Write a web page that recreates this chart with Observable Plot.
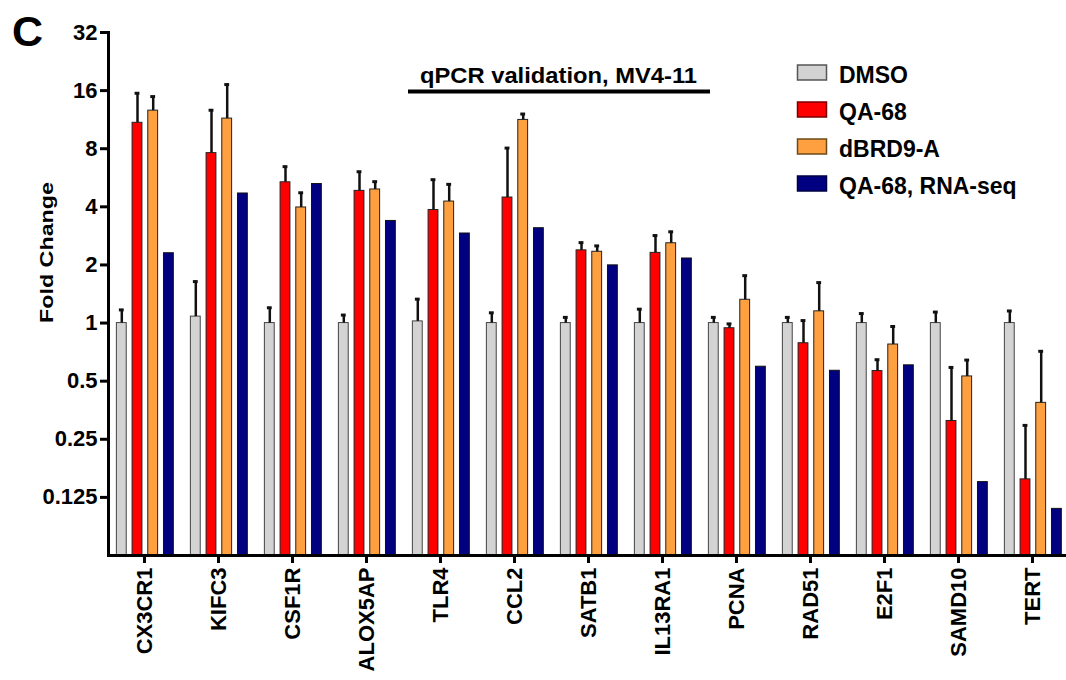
<!DOCTYPE html>
<html><head><meta charset="utf-8">
<script src="https://cdn.jsdelivr.net/npm/d3@7"></script>
<script src="https://cdn.jsdelivr.net/npm/@observablehq/plot@0.6"></script>
<style>
body{margin:0;background:#fff;}
#wrap{position:relative;width:1066px;height:680px;}
#wrap svg{position:absolute;left:0;top:0;}
</style></head><body><div id="wrap"></div>
<script>
const genes = ["CX3CR1","KIFC3","CSF1R","ALOX5AP","TLR4","CCL2","SATB1","IL13RA1","PCNA","RAD51","E2F1","SAMD10","TERT"];
const seriesNames = ["DMSO","QA-68","dBRD9-A","QA-68, RNA-seq"];
const seriesColors = ["#d3d3d3","#ff0000","#ffa040","#000080"];
const seriesStroke = ["#444444","#222222","#222222","#111111"];

const dmso      = [1.0, 1.08, 1.0, 1.0, 1.02, 1.0, 1.0, 1.0, 1.0, 1.0, 1.0, 1.0, 1.0];
const dmsoErr   = [1.17, 1.64, 1.20, 1.10, 1.33, 1.13, 1.07, 1.18, 1.07, 1.07, 1.12, 1.14, 1.155];
const qa68      = [10.9, 7.59, 5.36, 4.84, 3.85, 4.47, 2.38, 2.31, 0.94, 0.786, 0.564, 0.311, 0.155];
const qa68Err   = [15.5, 12.66, 6.46, 6.08, 5.53, 8.06, 2.61, 2.84, 0.99, 1.03, 0.646, 0.589, 0.295];
const dbrd9     = [12.6, 11.46, 3.97, 4.92, 4.26, 11.28, 2.34, 2.59, 1.32, 1.15, 0.774, 0.529, 0.386];
const dbrd9Err  = [14.9, 17.2, 4.73, 5.40, 5.23, 12.1, 2.51, 2.97, 1.76, 1.62, 0.96, 0.643, 0.714];
const rnaseq    = [2.30, 4.69, 5.25, 3.38, 2.91, 3.10, 1.99, 2.16, 0.594, 0.566, 0.604, 0.150, 0.109];

const yTicks = [0.125, 0.25, 0.5, 1, 2, 4, 8, 16, 32];
const yTickLabels = ["0.125", "0.25", "0.5", "1", "2", "4", "8", "16", "32"];
const yBase = 0.0625;

const values = [dmso, qa68, dbrd9, rnaseq];
const errs = [dmsoErr, qa68Err, dbrd9Err, null];
const offsets = [-22.7, -7, 8.7, 24.4];

const W = 1066, H = 680;
const bandW = 964 / genes.length;
const barW = 10;
const barInset = (bandW - barW) / 2;
const capInset = (bandW - 5) / 2;

const marks = [];
values.forEach((vals, s) => {
  const rows = genes.map((g, i) => ({gene: g, series: seriesNames[s], value: vals[i], err: errs[s] ? errs[s][i] : null}));
  marks.push(Plot.barY(rows, {x: "gene", y1: yBase, y2: "value", fill: seriesColors[s], stroke: seriesStroke[s], strokeWidth: 1, insetLeft: barInset, insetRight: barInset, dx: offsets[s]}));
  if (errs[s]) {
    marks.push(Plot.ruleX(rows, {x: "gene", y1: "value", y2: "err", stroke: "#111", strokeWidth: 2.5, dx: offsets[s]}));
    marks.push(Plot.tickY(rows, {x: "gene", y: "err", stroke: "#111", strokeWidth: 3, insetLeft: capInset, insetRight: capInset, dx: offsets[s]}));
  }
});

const chart = Plot.plot({
  width: W, height: H,
  marginTop: 32, marginBottom: 125, marginLeft: 108, marginRight: 0,
  style: {fontFamily: "'Liberation Sans', Arial, sans-serif", fontWeight: "bold", fontSize: "22px", color: "#000", background: "#fff"},
  x: {type: "band", domain: genes, range: [106, 1070], padding: 0},
  y: {type: "log", base: 2, domain: [yBase, 32]},
  marks: [
    ...marks,
    Plot.ruleY([yBase], {stroke: "#000", strokeWidth: 3}),
    Plot.frame({anchor: "left", stroke: "#000", strokeWidth: 3}),
    Plot.axisY({ticks: yTicks, tickFormat: d => yTickLabels[yTicks.indexOf(d)], tickSize: 8, tickPadding: 3, strokeWidth: 3, fontSize: 22, label: null}),
    Plot.axisX({tickRotate: -90, tickSize: 8, tickPadding: 4, strokeWidth: 3, fontSize: 22, label: null})
  ]
});
document.getElementById("wrap").appendChild(chart);

// overlay annotations: panel letter, y title, header, legend
const ov = d3.select("#wrap").append("svg").attr("width", W).attr("height", H)
  .style("pointer-events", "none")
  .style("font-family", "'Liberation Sans', Arial, sans-serif").style("font-weight", "bold");
ov.append("text").attr("x", 12).attr("y", 46).attr("font-size", 43).text("C");
ov.append("text").attr("transform", "translate(53,252.5) rotate(-90)").attr("text-anchor", "middle")
  .attr("font-size", 19).attr("textLength", 141).attr("lengthAdjust", "spacingAndGlyphs").text("Fold Change");
ov.append("text").attr("x", 558.5).attr("y", 83).attr("text-anchor", "middle").attr("font-size", 22)
  .attr("textLength", 277).attr("lengthAdjust", "spacingAndGlyphs").text("qPCR validation, MV4-11");
ov.append("line").attr("x1", 408).attr("x2", 710).attr("y1", 91.5).attr("y2", 91.5).attr("stroke", "#000").attr("stroke-width", 4);
const legY = [65, 102, 139, 176];
const legStroke = ["#555", "#7a0000", "#6b4a1a", "#000040"];
seriesNames.forEach((n, i) => {
  ov.append("rect").attr("x", 797.5).attr("y", legY[i]).attr("width", 29).attr("height", 15).attr("fill", seriesColors[i]).attr("stroke", legStroke[i]).attr("stroke-width", 1.5);
  ov.append("text").attr("x", 839).attr("y", legY[i] + 17.5).attr("font-size", 23).text(n);
});
</script></body></html>
